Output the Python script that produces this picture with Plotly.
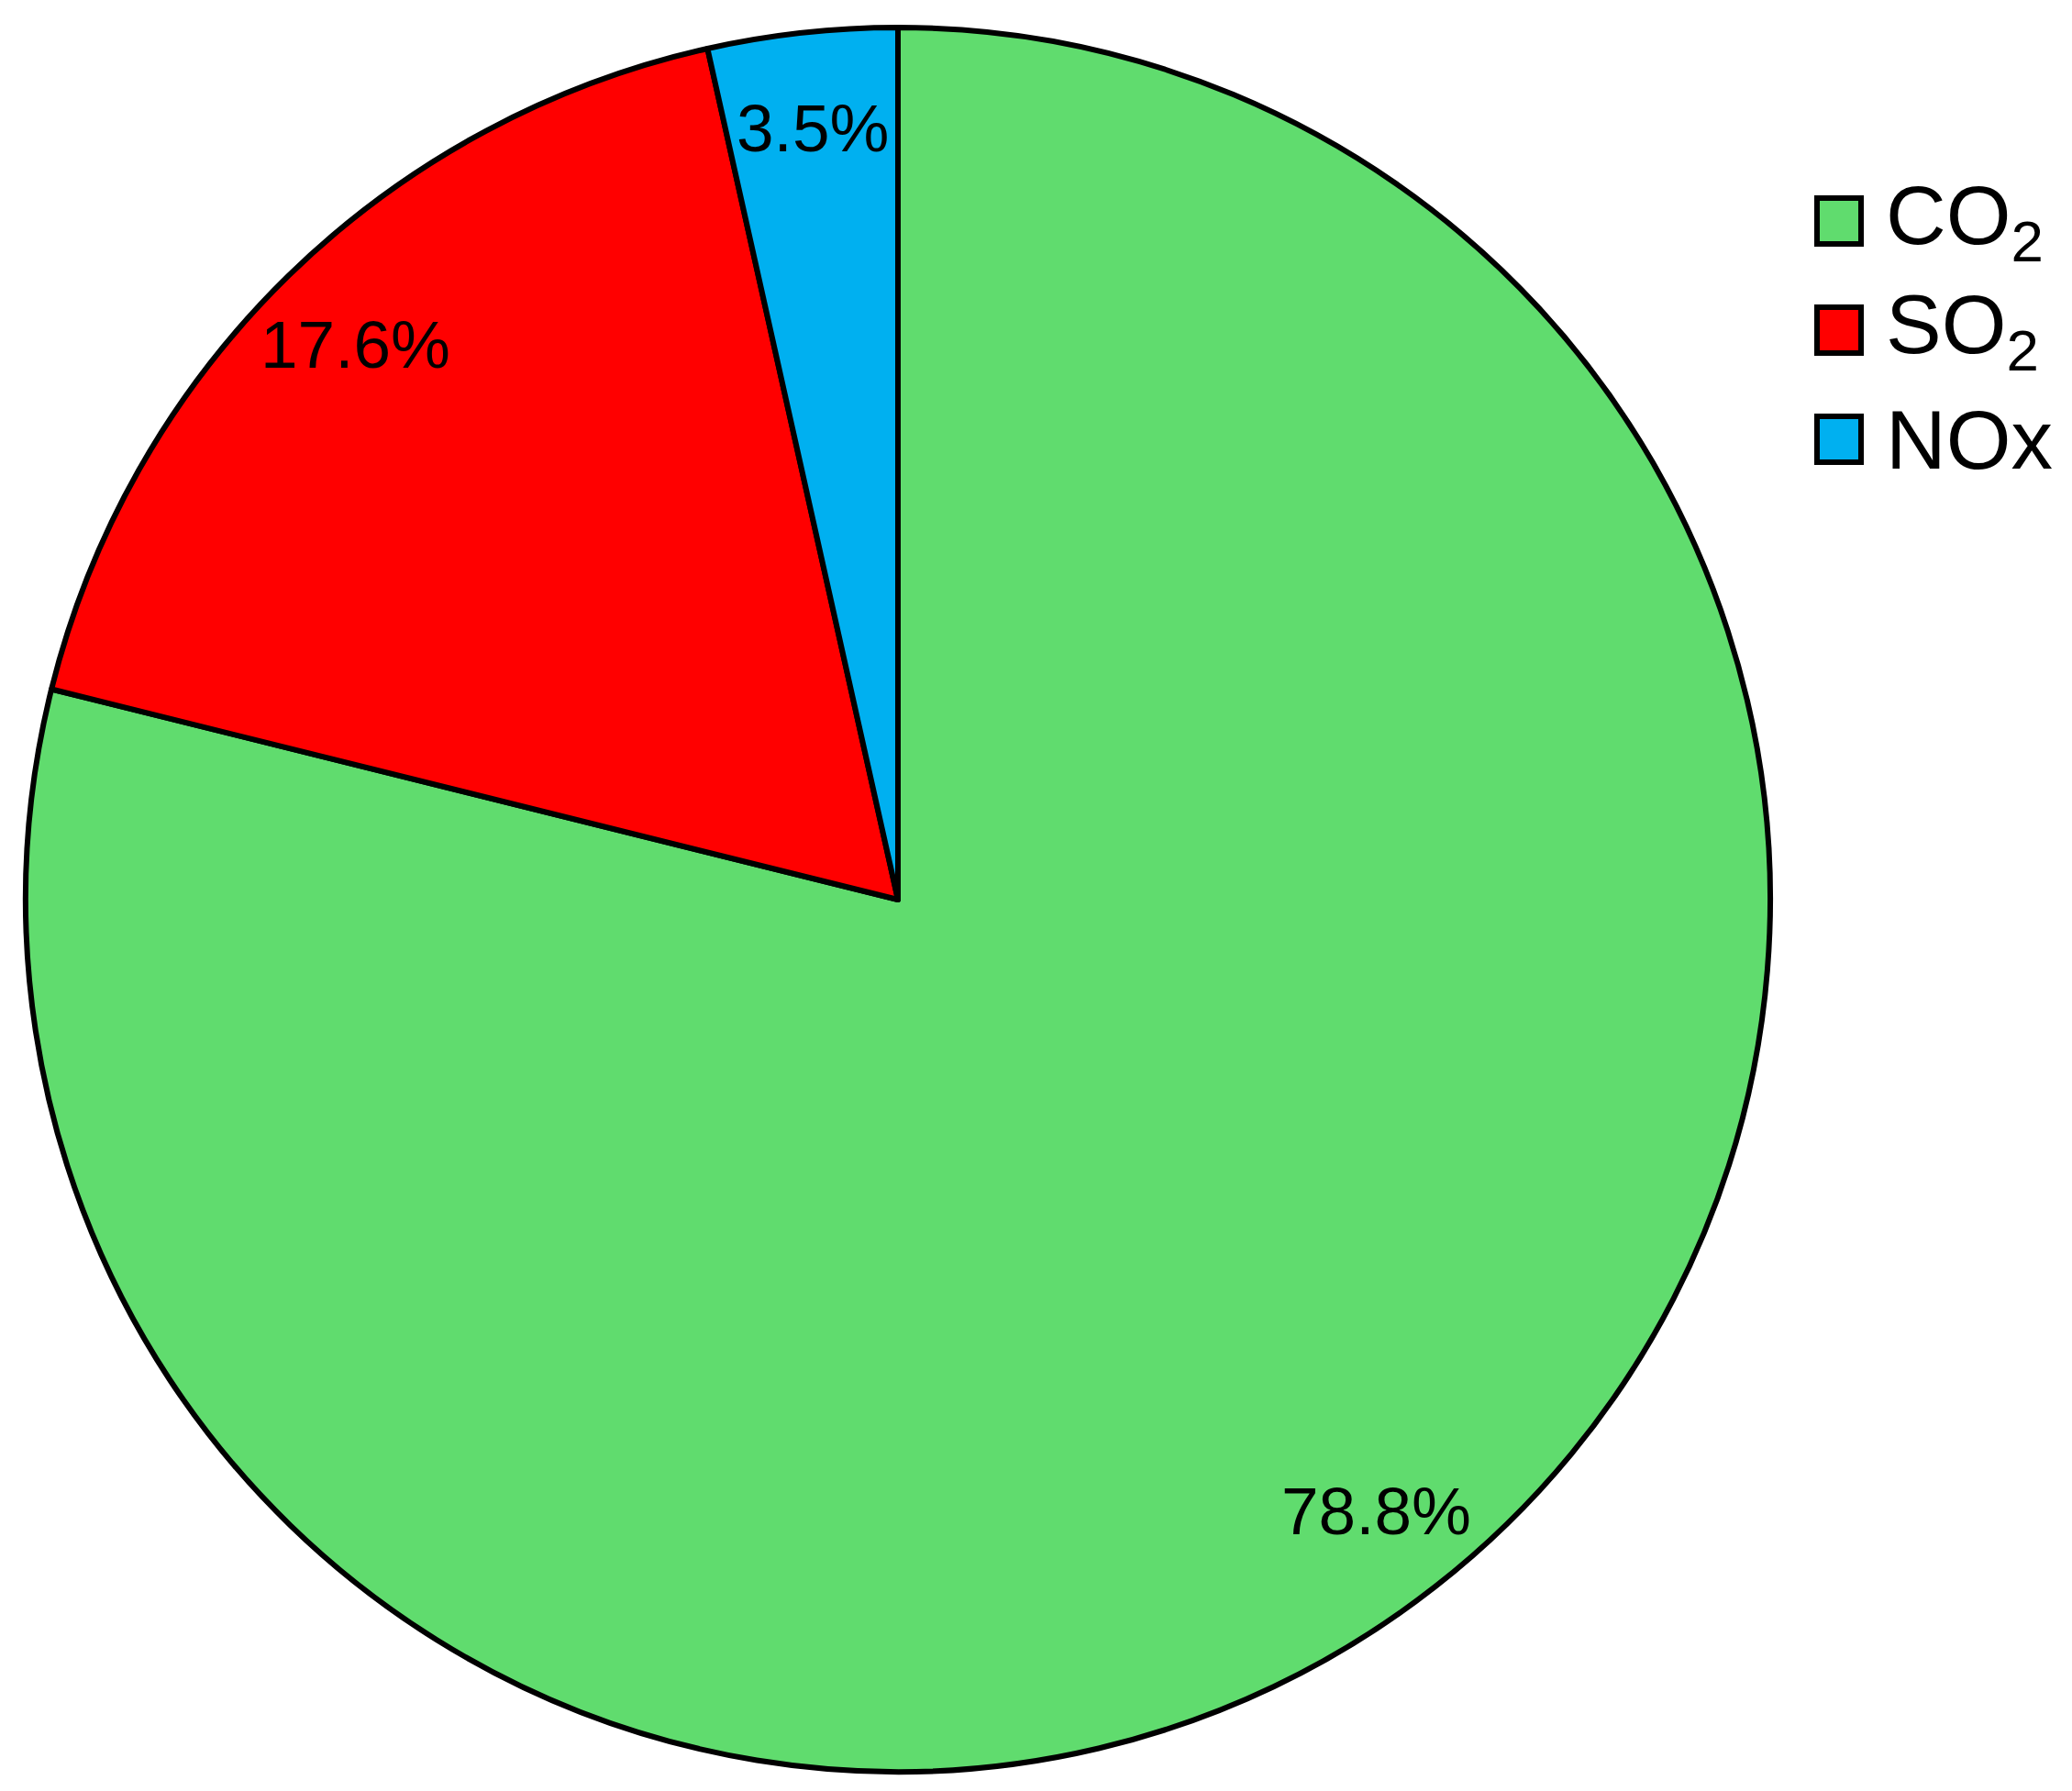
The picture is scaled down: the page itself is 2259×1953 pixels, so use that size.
import math
import plotly.graph_objects as go

# ---- data ----
categories = ["CO2", "SO2", "NOx"]
legend_labels = ["CO<sub>2</sub>", "SO<sub>2</sub>", "NOx"]
values = [78.8, 17.6, 3.5]
colors = ["#60DC6E", "#FF0000", "#00B0F0"]

W, H = 2259, 1953
OFF = 8  # default page body margin shifts the drawing
CX, CY, R = 979 - OFF, 981 - OFF, 951
FONT = "Liberation Sans, Arial, sans-serif"

fig = go.Figure()
fig.add_trace(go.Pie(
    labels=categories,
    values=values,
    sort=False,
    direction="clockwise",
    rotation=0,
    marker=dict(colors=colors, line=dict(color="black", width=6)),
    textinfo="none",
    showlegend=False,
    domain=dict(x=[(CX - R) / W, (CX + R) / W], y=[1 - (CY + R) / H, 1 - (CY - R) / H]),
))

# percentage labels, placed at each slice's mid-angle (derived from the values)
total = sum(values)
cum = 0.0
for v in values:
    mid = (cum + v / 2) / total * 2 * math.pi
    cum += v
    rr = 0.89 * R
    px = CX + rr * math.sin(mid)
    py = CY - rr * math.cos(mid)
    fig.add_annotation(
        x=px / W, y=1 - py / H, xref="paper", yref="paper",
        text=f"{v}%", showarrow=False,
        xanchor="center", yanchor="middle",
        font=dict(family=FONT, size=73, color="black"),
    )

# custom legend (large square swatches)
LX0, LX1, LY0, STEP, SQ = 1981 - OFF, 2029 - OFF, 241 - OFF, 119, 50
for i, (lab, col) in enumerate(zip(legend_labels, colors)):
    yc = LY0 + i * STEP
    fig.add_shape(
        type="rect", xref="paper", yref="paper",
        x0=LX0 / W, x1=LX1 / W,
        y0=1 - (yc + SQ / 2) / H, y1=1 - (yc - SQ / 2) / H,
        fillcolor=col, line=dict(color="black", width=6),
    )
    fig.add_annotation(
        x=(2054 - OFF) / W, y=1 - yc / H, xref="paper", yref="paper",
        text=lab, showarrow=False, xanchor="left", yanchor="middle",
        font=dict(family=FONT, size=91, color="black"),
    )

fig.update_layout(
    width=W, height=H, autosize=False,
    margin=dict(l=0, r=0, t=0, b=0),
    paper_bgcolor="white", plot_bgcolor="white",
)

fig.write_html("out.html")
